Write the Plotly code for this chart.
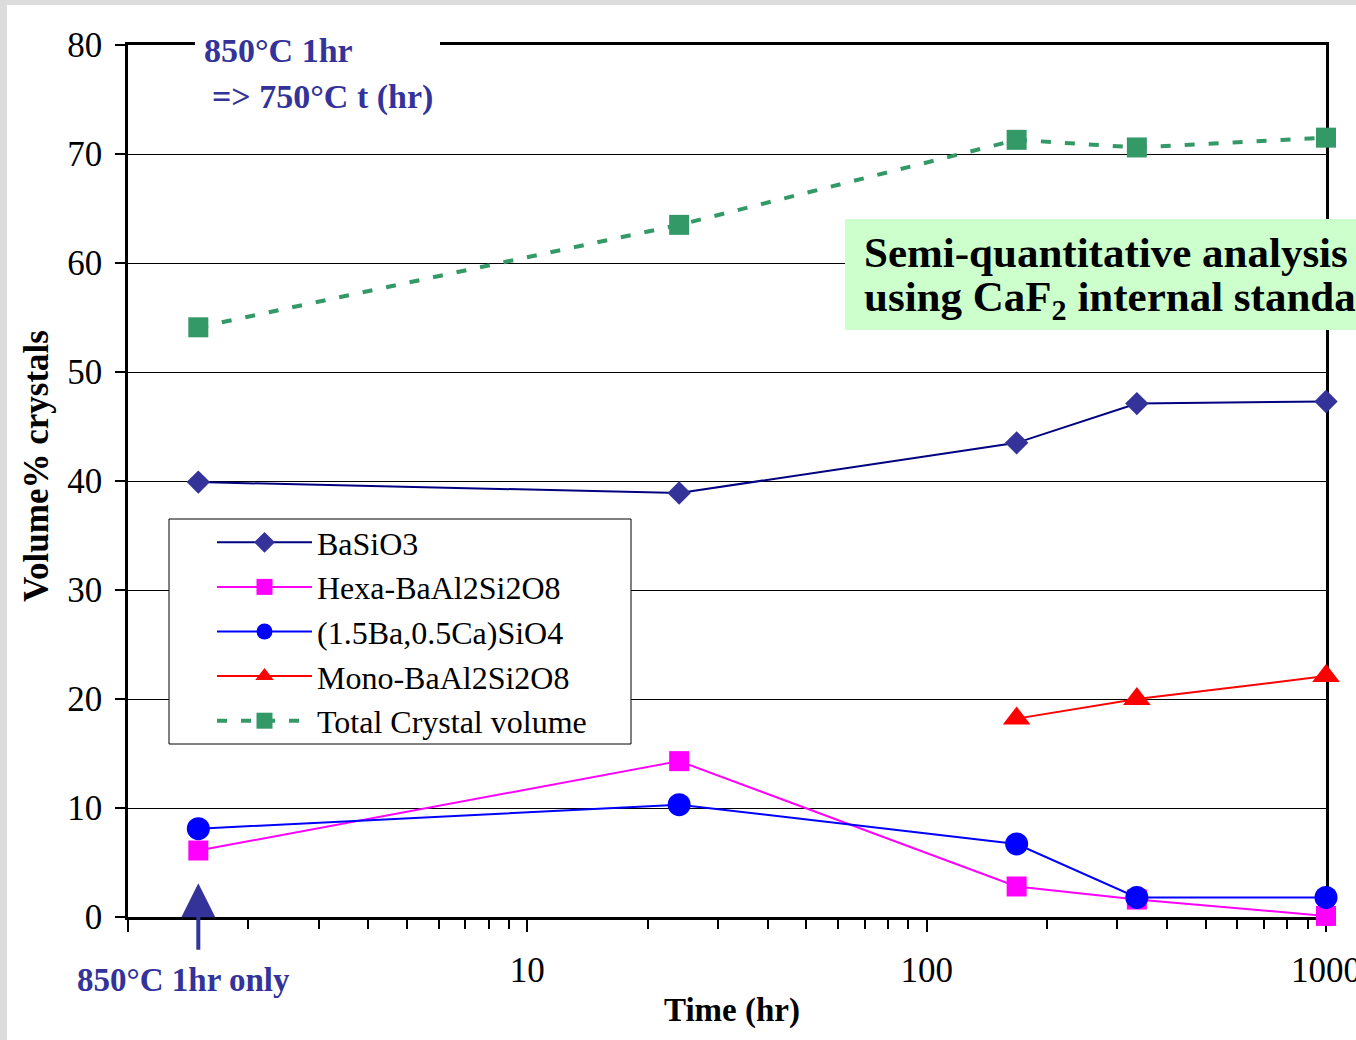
import math
import plotly.graph_objects as go

# ---------------- data ----------------
times = [1.5, 24, 168, 336, 1000]
basio3 = [39.9, 38.9, 43.5, 47.1, 47.3]
hexa = [6.1, 14.3, 2.8, 1.6, 0.1]
ca_sio4 = [8.1, 10.3, 6.7, 1.8, 1.8]
mono = [None, None, 18.2, 20.0, 22.1]
total = [54.1, 63.5, 71.3, 70.6, 71.5]

series_names = ["BaSiO3", "Hexa-BaAl2Si2O8", "(1.5Ba,0.5Ca)SiO4",
                "Mono-BaAl2Si2O8", "Total Crystal volume"]

x_major_ticks = [1, 10, 100, 1000]
x_major_text = ["", "10", "100", "1000"]
x_minor_ticks = [m * d for d in (1, 10, 100) for m in range(2, 10)]
y_ticks = [0, 10, 20, 30, 40, 50, 60, 70, 80]

FONT = "Liberation Serif"
NAVY_TXT = "#333399"

# plot area in pixels
W, H = 1356, 1040
L, R, T, B = 128, 1326, 45, 917
PW, PH = R - L, B - T


def px(xpix):
    return (xpix - L) / PW


def py(ypix):
    return (B - ypix) / PH


fig = go.Figure()

styles = [
    dict(line=dict(color="#000080", width=2),
         marker=dict(symbol="diamond", size=18, color="#333399")),
    dict(line=dict(color="#FF00FF", width=2),
         marker=dict(symbol="square", size=20, color="#FF00FF")),
    dict(line=dict(color="#0000FF", width=2),
         marker=dict(symbol="circle", size=23, color="#0000FF")),
    dict(line=dict(color="#FF0000", width=2),
         marker=dict(symbol="triangle-up", size=24, color="#FF0000")),
    dict(line=dict(color="#339966", width=4, dash="10px,14px"),
         marker=dict(symbol="square", size=20, color="#339966")),
]
values = [basio3, hexa, ca_sio4, mono, total]

for i, (name, vals, st) in enumerate(zip(series_names, values, styles)):
    fig.add_trace(go.Scatter(
        x=times, y=vals, name=name, mode="lines+markers",
        line=st["line"], marker=st["marker"], cliponaxis=False,
        legendgroup=f"g{i}",
    ))

axis_common = dict(
    showline=True, linecolor="black", mirror=True,
    ticks="outside", tickcolor="black",
    tickfont=dict(family=FONT, size=35, color="black"),
    layer="below traces",
)

fig.update_xaxes(
    type="log", range=[0, 3],
    tickmode="array", tickvals=x_major_ticks, ticktext=x_major_text,
    ticklen=12, tickwidth=2, linewidth=3,
    ticklabelstandoff=8, ticklabeloverflow="allow",
    showgrid=False, zeroline=False,
    minor=dict(tickmode="array", tickvals=x_minor_ticks, ticks="outside",
               ticklen=9, tickwidth=2, tickcolor="black", showgrid=False),
    **axis_common,
)
fig.update_yaxes(
    range=[0, 80], tickmode="array", tickvals=y_ticks,
    ticklen=10, tickwidth=2, linewidth=2.5,
    ticklabelstandoff=6,
    showgrid=True, gridcolor="black", gridwidth=1, zeroline=False,
    **axis_common,
)

shapes = [
    # white page over the grey slide border
    dict(type="rect", xref="paper", yref="paper", layer="below",
         x0=px(7), x1=px(W + 50), y0=py(H + 50), y1=py(5),
         fillcolor="white", line=dict(width=0)),
    # white box behind the top-left note
    dict(type="rect", xref="paper", yref="paper", layer="above",
         x0=px(195), x1=px(440), y0=py(122), y1=py(28),
         fillcolor="white", line=dict(width=0)),
    # light green box
    dict(type="rect", xref="paper", yref="paper", layer="above",
         x0=px(845), x1=px(W + 50), y0=py(330), y1=py(219),
         fillcolor="#CCFFCC", line=dict(width=0)),
    # legend frame
    dict(type="rect", xref="paper", yref="paper", layer="above",
         x0=px(169), x1=px(631), y0=py(744), y1=py(519),
         fillcolor="white", line=dict(color="black", width=1)),
]

annotations = [
    dict(text="<b>850°C 1hr</b>", xref="paper", yref="paper",
         x=px(202), y=py(50), xanchor="left", yanchor="middle",
         showarrow=False, font=dict(family=FONT, size=34, color=NAVY_TXT)),
    dict(text="<b>=> 750°C t (hr)</b>", xref="paper", yref="paper",
         x=px(210), y=py(97), xanchor="left", yanchor="middle",
         showarrow=False, font=dict(family=FONT, size=34, color=NAVY_TXT)),
    dict(text="<b>Semi-quantitative analysis</b>", xref="paper", yref="paper",
         x=px(862), y=py(252), xanchor="left", yanchor="middle",
         showarrow=False, font=dict(family=FONT, size=43, color="black")),
    dict(text="<b>using CaF<sub>2</sub> internal standard</b>", xref="paper", yref="paper",
         x=px(862), y=py(300), xanchor="left", yanchor="middle",
         showarrow=False, font=dict(family=FONT, size=43, color="black")),
    # arrow
    dict(text="", xref="x", yref="y", x=math.log10(times[0]), y=3.1,
         ax=0, ay=68, axref="pixel", ayref="pixel",
         showarrow=True, arrowhead=2, arrowsize=1.7, arrowwidth=4,
         arrowcolor=NAVY_TXT, standoff=0),
    dict(text="<b>850°C 1hr only</b>", xref="paper", yref="paper",
         x=px(183), y=py(980), xanchor="center", yanchor="middle",
         showarrow=False, font=dict(family=FONT, size=33, color=NAVY_TXT)),
    # axis titles
    dict(text="<b>Time (hr)</b>", xref="paper", yref="paper",
         x=px(732), y=py(1010), xanchor="center", yanchor="middle",
         showarrow=False, font=dict(family=FONT, size=33, color="black")),
    dict(text="<b>Volume% crystals</b>", xref="paper", yref="paper",
         x=px(37), y=py(466), xanchor="center", yanchor="middle",
         textangle=-90,
         showarrow=False, font=dict(family=FONT, size=35, color="black")),
]

fig.update_layout(
    width=W, height=H,
    margin=dict(l=L, r=W - R, t=T, b=H - B, autoexpand=False),
    paper_bgcolor="#DCDCDC", plot_bgcolor="white",
    shapes=shapes, annotations=annotations,
    showlegend=True,
    legend=dict(
        x=px(212), y=py(515), xanchor="left", yanchor="top",
        bgcolor="rgba(0,0,0,0)", borderwidth=0,
        font=dict(family=FONT, size=32, color="black"),
        itemwidth=95, tracegroupgap=0,
    ),
)

fig.write_html(
    "out.html",
    config={"displayModeBar": False},
    post_script="document.body.style.margin='0px';document.body.style.overflow='hidden';",
)
